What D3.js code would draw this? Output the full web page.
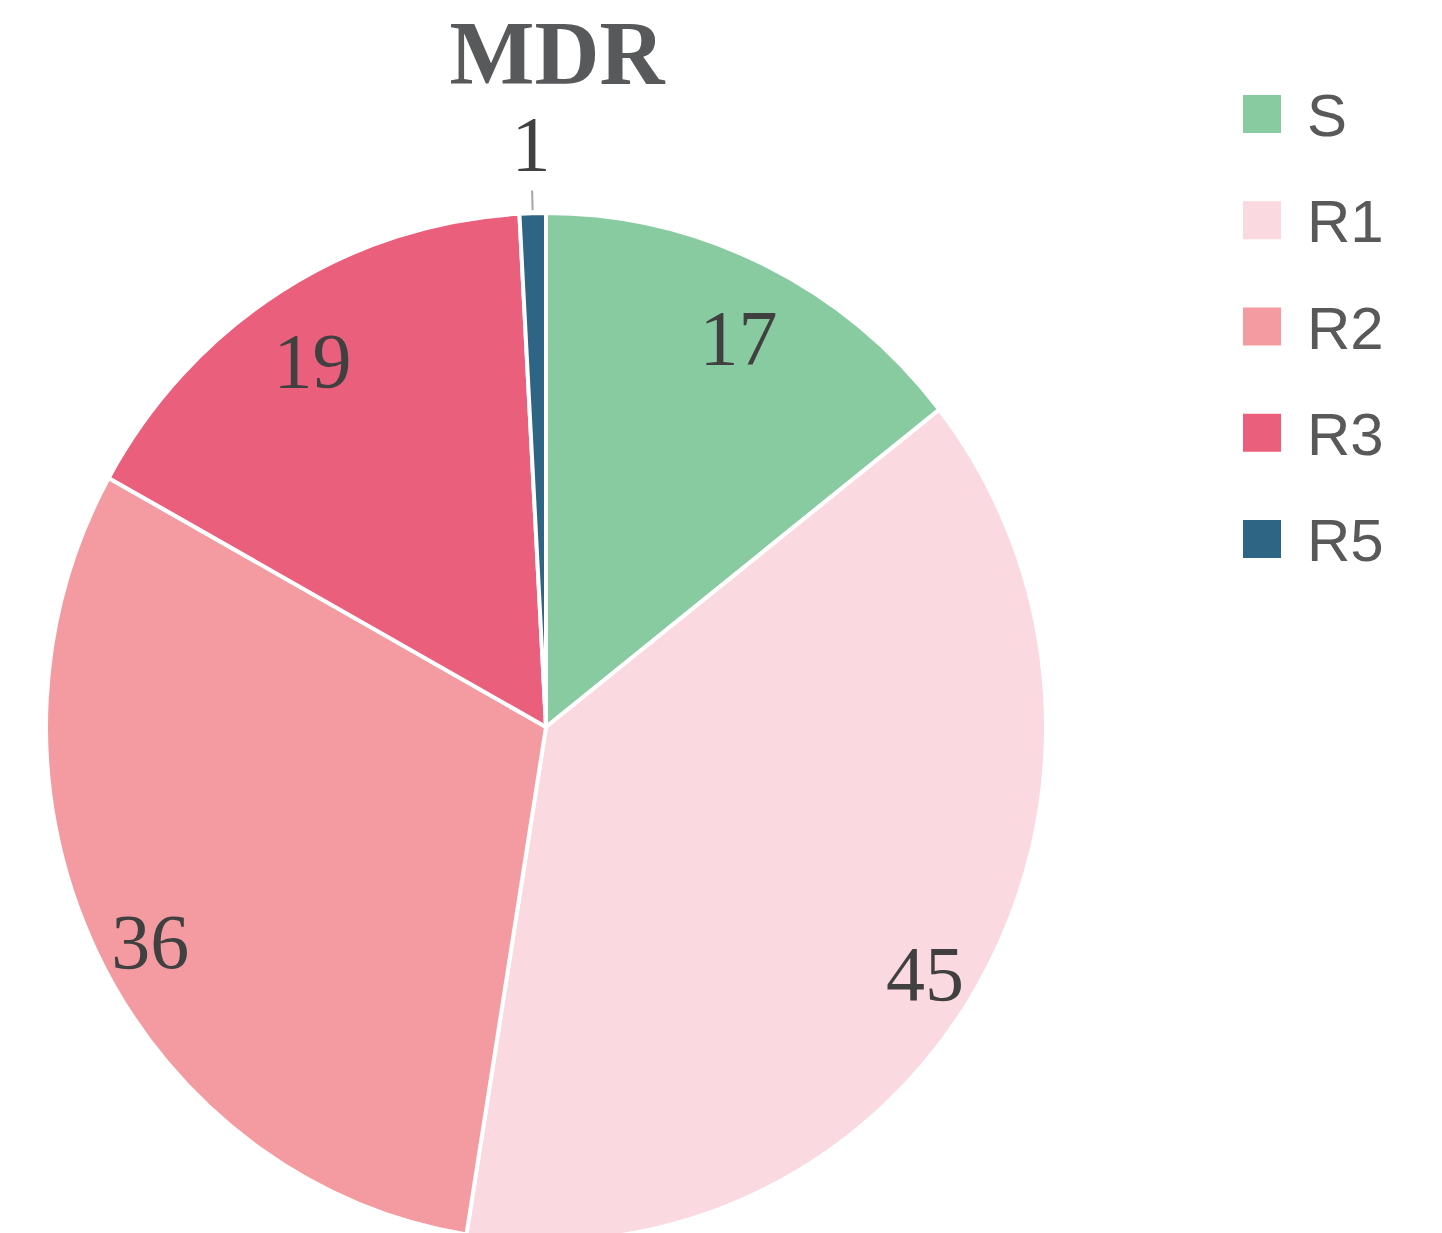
<!DOCTYPE html>
<html>
<head>
<meta charset="utf-8">
<script src="https://cdn.jsdelivr.net/npm/d3@7"></script>
<style>
  body { margin: 0; background: #fff; }
</style>
</head>
<body>
<div id="chart"></div>
<script>
var categories = ["S", "R1", "R2", "R3", "R5"];
var values = [17, 45, 36, 19, 1];
var colors = ["#88CBA1", "#FAD9E0", "#F49BA2", "#EA5F7B", "#2E6585"];
var title = "MDR";

var W = 1442, H = 1233;
var cx = 546, cy = 727, r = 500, sy = 1.028;

var svg = d3.select("#chart").append("svg")
    .attr("width", W)
    .attr("height", H);

var data = categories.map(function (c, i) { return { name: c, value: values[i], color: colors[i] }; });

var pie = d3.pie().sort(null).value(function (d) { return d.value; });
var arcs = pie(data);
var arc = d3.arc().innerRadius(0).outerRadius(r);

// pie is slightly taller than wide in the picture
var pieGroup = svg.append("g")
    .attr("transform", "translate(" + cx + "," + cy + ") scale(1," + sy + ")");

pieGroup.selectAll(".slice")
    .data(arcs)
    .enter()
    .append("path")
    .attr("class", "slice")
    .attr("d", arc)
    .attr("fill", function (d) { return d.data.color; })
    .attr("stroke", "#ffffff")
    .attr("stroke-width", 4)
    .attr("stroke-linejoin", "round");

function polar(angle, rad) {
    return [cx + rad * Math.sin(angle), cy - rad * sy * Math.cos(angle)];
}

var labels = svg.append("g").attr("class", "labels");
arcs.forEach(function (d) {
    var mid = (d.startAngle + d.endAngle) / 2;
    var small = (d.endAngle - d.startAngle) < 0.2;
    var p = polar(mid, small ? 568 : 440);
    if (small) {
        var a = polar(mid, 503), b = polar(mid, 522);
        labels.append("line")
            .attr("x1", a[0]).attr("y1", a[1])
            .attr("x2", b[0]).attr("y2", b[1])
            .attr("stroke", "#A6A6A6")
            .attr("stroke-width", 2);
    }
    labels.append("text")
        .attr("x", p[0])
        .attr("y", p[1])
        .attr("dy", small ? 0 : 17)
        .attr("text-anchor", "middle")
        .attr("dominant-baseline", "central")
        .attr("font-family", "'Liberation Serif', 'Times New Roman', serif")
        .attr("font-size", 78)
        .attr("fill", "#404040")
        .text(d.data.value);
});

svg.append("text")
    .attr("x", 557)
    .attr("y", 84)
    .attr("text-anchor", "middle")
    .attr("font-family", "'Liberation Serif', 'Times New Roman', serif")
    .attr("font-weight", "bold")
    .attr("font-size", 90)
    .attr("fill", "#58595B")
    .text(title);

var legend = svg.append("g").attr("class", "legend");
var ly = d3.scalePoint().domain(categories).range([114, 539]);
var items = legend.selectAll(".item")
    .data(data)
    .enter()
    .append("g")
    .attr("class", "item")
    .attr("transform", function (d) { return "translate(1243," + ly(d.name) + ")"; });

items.append("rect")
    .attr("x", 0)
    .attr("y", -19)
    .attr("width", 38)
    .attr("height", 38)
    .attr("fill", function (d) { return d.color; });

items.append("text")
    .attr("x", 64)
    .attr("y", 22)
    .attr("font-family", "'Liberation Sans', Arial, sans-serif")
    .attr("font-size", 60)
    .attr("fill", "#595959")
    .text(function (d) { return d.name; });
</script>
</body>
</html>
